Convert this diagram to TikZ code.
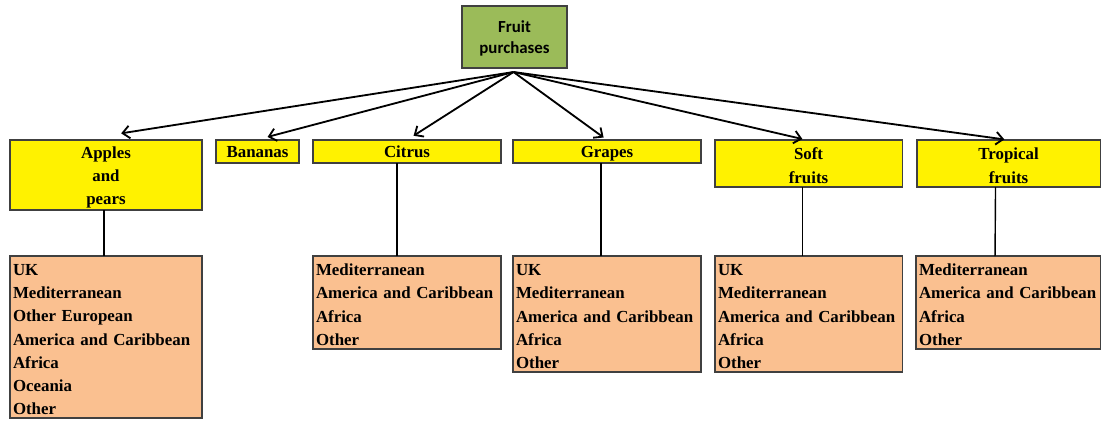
\documentclass[tikz,border=0pt]{standalone}
\usepackage{fontspec}
\setmainfont{Liberation Serif}
\newfontfamily\calibfont{Carlito}
\usetikzlibrary{arrows.meta,calc}
\definecolor{rootgreen}{HTML}{9BBB59}
\definecolor{peach}{HTML}{FAC090}
\definecolor{edgegray}{HTML}{404040}

\begin{document}
\begin{tikzpicture}[x=0.025cm,y=-0.025cm,
    every node/.style={inner ysep=0pt,inner xsep=0.075cm,outer sep=0pt},
    rootbox/.style={draw=edgegray,line width=0.8pt,fill=rootgreen,anchor=north west,
      align=center,execute at begin node=\strut,
      font=\calibfont\bfseries\fontsize{12}{14.5}\selectfont},
    fruitbox/.style={draw=edgegray,line width=0.8pt,fill=yellow,anchor=north west,
      align=center,font=\bfseries\fontsize{12}{16.5}\selectfont},
    tallbox/.style={fruitbox,execute at begin node=\strut},
    flatbox/.style={fruitbox,text depth=0pt},
    listbox/.style={draw=edgegray,line width=0.8pt,fill=peach,anchor=north west,
      align=left,execute at begin node=\strut,
      font=\bfseries\fontsize{12}{16.5}\selectfont},
    feed/.style={draw=black,line width=1.3pt,-{Straight Barb[length=5pt,width=9pt]},shorten >=3pt},
    link/.style={draw=black,line width=1pt}]
  \useasboundingbox (0,0) rectangle (1102,421);

  % top of the tree
  \node[rootbox,text width=2.475cm,minimum height=1.55cm] (root) at (462,6) {Fruit\\purchases};
  \coordinate (hub) at ($(root.south)+(-1,4)$);

  % fruit groups
  \node[tallbox,text width=4.65cm,minimum height=1.75cm] (apples) at (10,140) {Apples\\and\\pears};
  \node[flatbox,text width=1.925cm,minimum height=0.575cm] (bananas) at (216,140) {Bananas};
  \node[flatbox,text width=4.55cm,minimum height=0.575cm] (citrus) at (313,140) {Citrus};
  \node[flatbox,text width=4.55cm,minimum height=0.575cm] (grapes) at (513,140) {Grapes};
  \node[tallbox,text width=4.525cm,minimum height=1.175cm] (soft) at (715,140) {Soft\\fruits};
  \node[tallbox,text width=4.425cm,minimum height=1.175cm] (tropical) at (917,140) {Tropical\\fruits};

  % origins
  \node[listbox,text width=4.65cm,minimum height=4.05cm] (appleslist) at (10,256)
    {UK\\Mediterranean\\Other European\\America and Caribbean\\Africa\\Oceania\\Other};
  \node[listbox,text width=4.55cm,minimum height=2.325cm] (citruslist) at (313,256)
    {Mediterranean\\America and Caribbean\\Africa\\Other};
  \node[listbox,text width=4.55cm,minimum height=2.9cm] (grapeslist) at (513,256)
    {UK\\Mediterranean\\America and Caribbean\\Africa\\Other};
  \node[listbox,text width=4.525cm,minimum height=2.9cm] (softlist) at (715,256)
    {UK\\Mediterranean\\America and Caribbean\\Africa\\Other};
  \node[listbox,text width=4.45cm,minimum height=2.325cm] (tropicallist) at (916,256)
    {Mediterranean\\America and Caribbean\\Africa\\Other};

  % arrows from the root
  \draw[feed] (hub) -- ($(apples.north)+(11,-6)$);
  \draw[feed] (hub) -- ($(bananas.north)+(6,-2)$);
  \draw[feed] (hub) -- ($(citrus.north)+(3,-2)$);
  \draw[feed] (hub) -- (grapes.north);
  \draw[feed] (hub) -- ($(soft.north)+(-2,0)$);
  \draw[feed] (hub) -- (tropical.north);

  % groups to lists
  \draw[link] ($(apples.south)+(-2,0)$) -- ($(appleslist.north)+(-2,0)$);
  \draw[link] ($(citrus.south)+(-10,0)$) -- ($(citruslist.north)+(-10,0)$);
  \draw[link] ($(grapes.south)+(-6,0)$) -- ($(grapeslist.north)+(-6,0)$);
  \draw[link] ($(soft.south)+(-6,0)$) -- ($(softlist.north)+(-6,0)$);
  \draw[link] ($(tropical.south)+(-13,0)$) -- ($(tropicallist.north)+(-13,0)$);
\end{tikzpicture}
\end{document}
